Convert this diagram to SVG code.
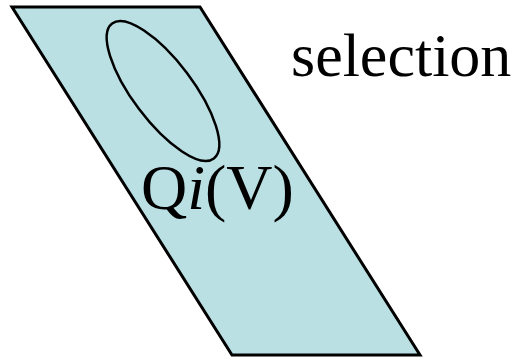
<svg xmlns="http://www.w3.org/2000/svg" width="519" height="358" viewBox="0 0 519 358">
<style>
.t{font-family:"Liberation Serif","Times New Roman",serif;fill:#000}
</style>
<rect width="519" height="358" fill="#fff"/>
<g id="plane">
<polygon points="12,7 200,7 420,355 232,355" fill="#bae0e4" stroke="#000" stroke-width="3"/>
</g>
<g id="ellipse">
<ellipse cx="163" cy="91" rx="84.5" ry="30" transform="rotate(53 163 91)" fill="none" stroke="#000" stroke-width="2.5"/>
</g>
<g id="label">
<text class="t" x="141" y="209" font-size="64">Q<tspan font-style="italic">i</tspan>(V)</text>
</g>
<g id="selection">
<text class="t" x="291" y="76" font-size="62">selection</text>
</g>
</svg>
